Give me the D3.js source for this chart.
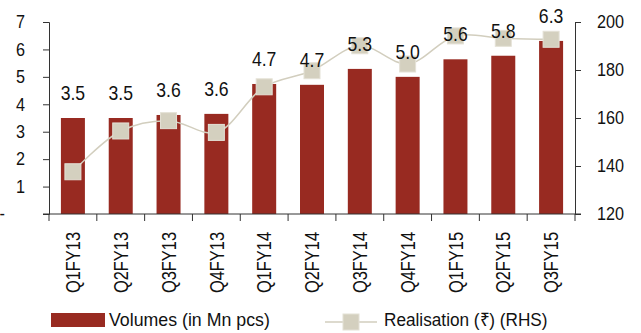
<!DOCTYPE html>
<html>
<head>
<meta charset="utf-8">
<script src="https://cdn.jsdelivr.net/npm/d3@7"></script>
<style>
  body { margin: 0; background: #fff; }
  svg text { font-family: "Liberation Sans", Arial, sans-serif; fill: #111; }
  .axis path, .axis line { stroke: #333; }
</style>
</head>
<body>
<div id="chart"></div>
<script>
// quarters, volumes (Mn pcs) and realisation (RHS)
var quarters = ['Q1FY13', 'Q2FY13', 'Q3FY13', 'Q4FY13', 'Q1FY14', 'Q2FY14', 'Q3FY14', 'Q4FY14', 'Q1FY15', 'Q2FY15', 'Q3FY15'];
var volumes = [3.5, 3.5, 3.61, 3.65, 4.74, 4.71, 5.29, 5.0, 5.64, 5.77, 6.31];
var volumeLabels = ['3.5', '3.5', '3.6', '3.6', '4.7', '4.7', '5.3', '5.0', '5.6', '5.8', '6.3'];
var realisation = [137.6, 154.6, 158.9, 154.0, 173.0, 179.7, 190.1, 182.5, 194.2, 193.2, 192.8];
var leftTicks = [0, 1, 2, 3, 4, 5, 6, 7];
var rightTicks = [120, 140, 160, 180, 200];

var W = 641, H = 333;
var x0 = 49, x1 = 575, yTop = 22, yBottom = 214;

var svg = d3.select('#chart').append('svg').attr('width', W).attr('height', H);

var xb = d3.scaleBand().domain(quarters).range([x0, x1]);
var y = d3.scaleLinear().domain([0, 7]).range([yBottom, yTop]);
var y2 = d3.scaleLinear().domain([120, 200]).range([yBottom, yTop]);

function mid(i) { return xb(quarters[i]) + xb.bandwidth() / 2; }

// squeeze text horizontally to look like a condensed face
function narrow(sel, s) {
    sel.each(function() {
        var t = d3.select(this);
        var tx = +t.attr('x') || 0;
        t.attr('x', 0).attr('transform', 'translate(' + tx + ',0) scale(' + s + ',1)');
    });
}

// bars
svg.selectAll('.bar').data(volumes).enter().append('rect')
    .attr('class', 'bar')
    .attr('x', function(d, i) { return mid(i) - 12; })
    .attr('y', function(d) { return y(d); })
    .attr('width', 24)
    .attr('height', function(d) { return yBottom - y(d); })
    .attr('fill', '#982a21');

// left axis
var gl = svg.append('g').attr('class', 'axis').attr('transform', 'translate(' + x0 + ',0)')
    .call(d3.axisLeft(y).tickValues(leftTicks).tickSize(6).tickPadding(18)
        .tickFormat(function(d) { return d === 0 ? '-' : d; }));
gl.selectAll('text').style('font-size', '18px');
gl.selectAll('.tick').filter(function(d) { return d === 0; }).select('text').attr('x', -44);
narrow(gl.selectAll('text'), 0.9);

// right axis
var gr = svg.append('g').attr('class', 'axis').attr('transform', 'translate(' + x1 + ',0)')
    .call(d3.axisRight(y2).tickValues(rightTicks).tickSize(6).tickPadding(16));
gr.selectAll('text').style('font-size', '18px');
narrow(gr.selectAll('text'), 0.9);

// bottom axis with ticks at band edges
var gb = svg.append('g').attr('class', 'axis').attr('transform', 'translate(0,' + yBottom + ')');
gb.append('line').attr('x1', x0 - 6).attr('x2', x1 + 6).attr('y1', 0).attr('y2', 0).attr('stroke', '#333');
gb.selectAll('.edge').data(quarters.concat(['end'])).enter().append('line')
    .attr('x1', function(d, i) { return x0 + i * xb.bandwidth(); })
    .attr('x2', function(d, i) { return x0 + i * xb.bandwidth(); })
    .attr('y1', 0).attr('y2', 7).attr('stroke', '#333');
gb.selectAll('.lbl').data(quarters).enter().append('text')
    .attr('transform', function(d, i) { return 'translate(' + mid(i) + ',18) rotate(-90) scale(0.82,1)'; })
    .attr('dy', '0.36em')
    .attr('text-anchor', 'end')
    .style('font-size', '20px')
    .text(function(d) { return d; });

// realisation line
var line = d3.line()
    .x(function(d, i) { return mid(i); })
    .y(function(d) { return y2(d); })
    .curve(d3.curveCatmullRom.alpha(0.5));
svg.append('path').datum(realisation)
    .attr('d', line).attr('fill', 'none').attr('stroke', '#d2cebe').attr('stroke-width', 1.5);

svg.selectAll('.mk').data(realisation).enter().append('rect')
    .attr('x', function(d, i) { return mid(i) - 8; })
    .attr('y', function(d) { return y2(d) - 8; })
    .attr('width', 16).attr('height', 16)
    .attr('fill', '#d4d0bf').attr('stroke', '#e4e1d6').attr('stroke-width', 1);

// value labels
svg.selectAll('.val').data(volumes).enter().append('text')
    .attr('transform', function(d, i) { return 'translate(' + mid(i) + ',' + (y(d) - 18) + ') scale(0.88,1)'; })
    .attr('text-anchor', 'middle')
    .style('font-size', '20px')
    .text(function(d, i) { return volumeLabels[i]; });

// legend
var lg = svg.append('g');
lg.append('rect').attr('x', 51).attr('y', 313).attr('width', 54).attr('height', 14).attr('fill', '#982a21');
lg.append('text').attr('transform', 'translate(109,326) scale(0.96,1)').style('font-size', '18.5px').text('Volumes (in Mn pcs)');
lg.append('line').attr('x1', 325).attr('x2', 377).attr('y1', 322).attr('y2', 322).attr('stroke', '#d2cebe').attr('stroke-width', 1.5);
lg.append('rect').attr('x', 343).attr('y', 314).attr('width', 16).attr('height', 16)
    .attr('fill', '#d4d0bf').attr('stroke', '#e4e1d6');
lg.append('text').attr('transform', 'translate(384,326) scale(0.93,1)').style('font-size', '18.5px').text('Realisation (₹) (RHS)');
</script>
</body>
</html>
